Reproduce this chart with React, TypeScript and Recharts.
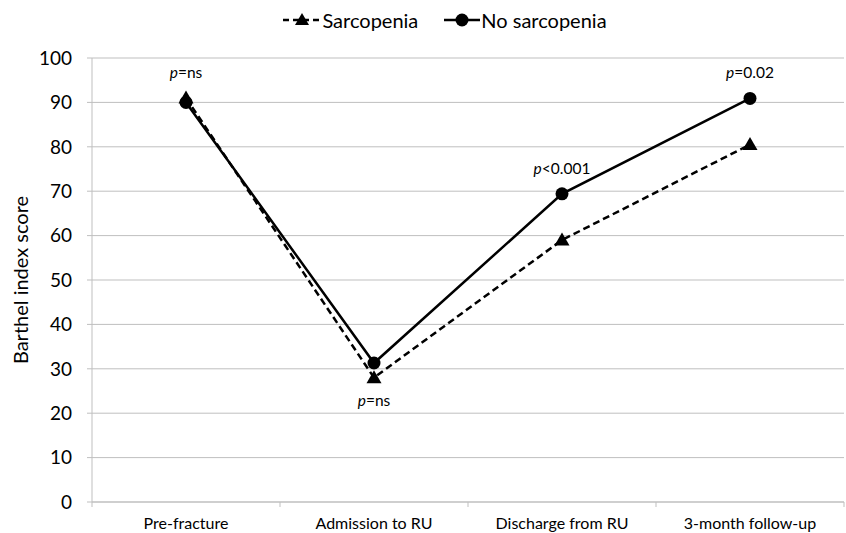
import React from 'react';
import { LineChart, Line, XAxis, YAxis, CartesianGrid, Legend, LabelList } from 'recharts';

const categories = ['Pre-fracture', 'Admission to RU', 'Discharge from RU', '3-month follow-up'];
const sarcopenia = [91, 28, 59, 80.5];
const noSarcopenia = [90, 31.3, 69.4, 90.9];
const pValues = ['=ns', '=ns', '<0.001', '=0.02'];
const pPlacement = ['above', 'below', 'above', 'above'];
const yTicks = [0, 10, 20, 30, 40, 50, 60, 70, 80, 90, 100];

const data = categories.map((name, i) => ({
    name,
    pos: i + 0.5,
    sarcopenia: sarcopenia[i],
    noSarcopenia: noSarcopenia[i],
}));
// boundaries (tick marks) and centres (labels) of each category
const xTicks = categories.flatMap((_, i) => [i, i + 0.5]).concat(categories.length);

const FONT = 'Lato, "Open Sans", sans-serif';
const GRID = '#bfbfbf';

const TriangleDot = (props: any) => {
    const { cx, cy } = props;
    if (cx == null || cy == null) return null;
    return <path d={`M${cx},${cy - 7.5}L${cx + 7.5},${cy + 5.5}L${cx - 7.5},${cy + 5.5}Z`} fill="#000" />;
};

const CircleDot = (props: any) => {
    const { cx, cy } = props;
    if (cx == null || cy == null) return null;
    return <circle cx={cx} cy={cy} r={6.5} fill="#000" />;
};

const XTick = (props: any) => {
    const { x, y, payload } = props;
    const v = payload.value;
    if (Number.isInteger(v)) {
        return <line x1={x} x2={x} y1={y - 15} y2={y - 10} stroke={GRID} />;
    }
    return (
        <text x={x} y={y + 5} textAnchor="middle" dominantBaseline="central" fontSize={16} fill="#000" fontFamily={FONT}>
            {categories[Math.floor(v)]}
        </text>
    );
};

const makePLabel = (own: number[], other: number[]) => (props: any) => {
    const { x, y, index } = props;
    const place = pPlacement[index];
    const isTop = own[index] >= other[index];
    if ((place === 'above') !== isTop) return null;
    const ty = place === 'above' ? y - 26 : y + 22;
    return (
        <text x={x} y={ty} textAnchor="middle" dominantBaseline="central" fontSize={15.5} fill="#000" fontFamily={FONT}>
            <tspan fontStyle="italic">p</tspan>
            <tspan>{pValues[index]}</tspan>
        </text>
    );
};

const LegendContent = () => (
    <div style={{ display: 'flex', justifyContent: 'center', alignItems: 'center', paddingLeft: 44, fontFamily: FONT, fontSize: 20, color: '#000' }}>
        <svg width={38} height={20} style={{ marginRight: 1 }}>
            <line x1={0} x2={38} y1={10} y2={10} stroke="#000" strokeWidth={2.5} strokeDasharray="6 4" />
            <path d="M19,3L26,15L12,15Z" fill="#000" />
        </svg>
        <span style={{ marginRight: 26 }}>Sarcopenia</span>
        <svg width={36} height={20} style={{ marginRight: 1 }}>
            <line x1={0} x2={36} y1={10} y2={10} stroke="#000" strokeWidth={2.5} />
            <circle cx={18} cy={10} r={6.5} fill="#000" />
        </svg>
        <span>No sarcopenia</span>
    </div>
);

const YLabel = (props: any) => {
    const { viewBox } = props;
    const cx = viewBox.x + 12;
    const cy = viewBox.y + viewBox.height / 2;
    return (
        <text
            x={cx}
            y={cy}
            transform={`rotate(-90, ${cx}, ${cy})`}
            textAnchor="middle"
            dominantBaseline="central"
            fontSize={20}
            fill="#000"
            fontFamily={FONT}
        >
            Barthel index score
        </text>
    );
};

const App: React.FC = () => {
    return (
        <div style={{ position: 'absolute', left: 0, top: 0, background: '#fff' }}>
            <LineChart
                width={846}
                height={533}
                data={data}
                margin={{ top: 58, right: 2, left: 8, bottom: 1 }}
                style={{ fontFamily: FONT }}
            >
                <CartesianGrid vertical={false} stroke={GRID} />
                <XAxis
                    dataKey="pos"
                    type="number"
                    domain={[0, categories.length]}
                    ticks={xTicks}
                    interval={0}
                    tickLine={false}
                    tickSize={5}
                    tickMargin={10}
                    tick={<XTick />}
                    axisLine={{ stroke: GRID }}
                    height={30}
                />
                <YAxis
                    domain={[0, 100]}
                    ticks={yTicks}
                    interval={0}
                    width={84}
                    tickSize={5}
                    tickMargin={15}
                    tick={{ fontSize: 19, fill: '#000', fontFamily: FONT }}
                    tickLine={{ stroke: GRID }}
                    axisLine={{ stroke: GRID }}
                    label={<YLabel />}
                />
                <Legend verticalAlign="middle" align="center" wrapperStyle={{ top: 8, left: 0, width: 846 }} content={<LegendContent />} />
                <Line
                    dataKey="noSarcopenia"
                    name="No sarcopenia"
                    stroke="#000"
                    strokeWidth={2.5}
                    dot={<CircleDot />}
                    activeDot={false}
                    isAnimationActive={false}
                >
                    <LabelList dataKey="noSarcopenia" content={makePLabel(noSarcopenia, sarcopenia)} />
                </Line>
                <Line
                    dataKey="sarcopenia"
                    name="Sarcopenia"
                    stroke="#000"
                    strokeWidth={2.5}
                    strokeDasharray="7 4"
                    dot={<TriangleDot />}
                    activeDot={false}
                    isAnimationActive={false}
                >
                    <LabelList dataKey="sarcopenia" content={makePLabel(sarcopenia, noSarcopenia)} />
                </Line>
            </LineChart>
        </div>
    );
};

export default App;
